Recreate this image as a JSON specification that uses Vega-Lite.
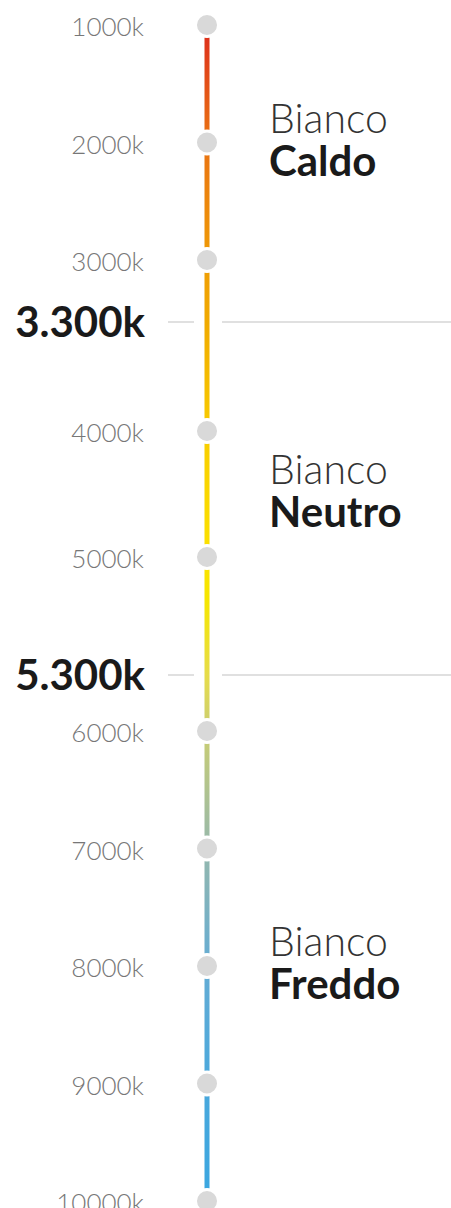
{
  "$schema": "https://vega.github.io/schema/vega-lite/v6.json",
  "width": 451,
  "height": 1208,
  "padding": 0,
  "autosize": {"type": "none"},
  "background": "#ffffff",
  "config": {"view": {"stroke": null}},
  "datasets": {
    "ticks": [
      {"t": 1000, "label": "1000k"},
      {"t": 2000, "label": "2000k"},
      {"t": 3000, "label": "3000k"},
      {"t": 4000, "label": "4000k"},
      {"t": 5000, "label": "5000k"},
      {"t": 6000, "label": "6000k"},
      {"t": 7000, "label": "7000k"},
      {"t": 8000, "label": "8000k"},
      {"t": 9000, "label": "9000k"},
      {"t": 10000, "label": "10000k"}
    ],
    "thresholds": [
      {"t": 3300, "label": "3.300k"},
      {"t": 5300, "label": "5.300k"}
    ],
    "zones": [
      {"t": 2000, "word": "Bianco", "name": "Caldo"},
      {"t": 4500, "word": "Bianco", "name": "Neutro"},
      {"t": 8000, "word": "Bianco", "name": "Freddo"}
    ],
    "range": [{"t": 1000, "t2": 10000}]
  },
  "layer": [
    {
      "data": {"name": "thresholds"},
      "mark": {"type": "rule", "stroke": "#e0e0e0", "strokeWidth": 2},
      "encoding": {
        "y": {"field": "t", "type": "quantitative", "axis": null,
              "scale": {"type": "linear", "domain": [1000, 3000, 3300, 4000, 5000, 5300, 6000, 10000], "range": [25, 260, 322, 431, 557, 675, 731, 1201], "nice": false, "zero": false}},
        "x": {"datum": 168, "type": "quantitative", "axis": null, "scale": {"domain": [0, 451], "nice": false, "zero": false}},
        "x2": {"datum": 194}
      }
    },
    {
      "data": {"name": "thresholds"},
      "mark": {"type": "rule", "stroke": "#e0e0e0", "strokeWidth": 2},
      "encoding": {
        "y": {"field": "t", "type": "quantitative", "axis": null},
        "x": {"datum": 222, "type": "quantitative", "axis": null},
        "x2": {"datum": 451}
      }
    },
    {
      "data": {"name": "range"},
      "mark": {
        "type": "rect",
        "fill": {
          "gradient": "linear", "x1": 0, "y1": 0, "x2": 0, "y2": 1,
          "stops": [
            {"offset": 0, "color": "#dc2a1c"},
            {"offset": 0.088, "color": "#e86c14"},
            {"offset": 0.2, "color": "#ef9c06"},
            {"offset": 0.253, "color": "#f0aa00"},
            {"offset": 0.344, "color": "#f8cc00"},
            {"offset": 0.452, "color": "#fbe200"},
            {"offset": 0.489, "color": "#f5e600"},
            {"offset": 0.553, "color": "#e6dc4a"},
            {"offset": 0.591, "color": "#cfd06c"},
            {"offset": 0.7, "color": "#96b8ac"},
            {"offset": 0.8, "color": "#64acd4"},
            {"offset": 0.9, "color": "#4aa8dc"},
            {"offset": 1, "color": "#3aa6e0"}
          ]
        }
      },
      "encoding": {
        "y": {"field": "t", "type": "quantitative", "axis": null},
        "y2": {"field": "t2"},
        "x": {"datum": 204.5, "type": "quantitative", "axis": null},
        "x2": {"datum": 209.5}
      }
    },
    {
      "data": {"name": "ticks"},
      "mark": {"type": "point", "shape": "circle", "filled": true, "fill": "#d9d9d9", "stroke": "#ffffff", "strokeWidth": 3, "size": 531, "opacity": 1},
      "encoding": {
        "y": {"field": "t", "type": "quantitative", "axis": null},
        "x": {"datum": 207, "type": "quantitative", "axis": null}
      }
    },
    {
      "data": {"name": "ticks"},
      "mark": {"type": "text", "align": "right", "baseline": "alphabetic", "dy": 11, "font": "Lato", "fontWeight": 300, "fontSize": 26, "fill": "#777777"},
      "encoding": {
        "y": {"field": "t", "type": "quantitative", "axis": null},
        "x": {"datum": 144, "type": "quantitative", "axis": null},
        "text": {"field": "label"}
      }
    },
    {
      "data": {"name": "thresholds"},
      "mark": {"type": "text", "align": "right", "baseline": "alphabetic", "dy": 15, "font": "Lato", "fontWeight": "bold", "fontSize": 42, "fill": "#1a1a1a"},
      "encoding": {
        "y": {"field": "t", "type": "quantitative", "axis": null},
        "x": {"datum": 145, "type": "quantitative", "axis": null},
        "text": {"field": "label"}
      }
    },
    {
      "data": {"name": "zones"},
      "mark": {"type": "text", "align": "left", "baseline": "alphabetic", "dy": -10, "font": "Lato", "fontWeight": 300, "fontSize": 41, "fill": "#333333"},
      "encoding": {
        "y": {"field": "t", "type": "quantitative", "axis": null},
        "x": {"datum": 269, "type": "quantitative", "axis": null},
        "text": {"field": "word"}
      }
    },
    {
      "data": {"name": "zones"},
      "mark": {"type": "text", "align": "left", "baseline": "alphabetic", "dy": 33, "font": "Lato", "fontWeight": "bold", "fontSize": 42, "fill": "#1a1a1a"},
      "encoding": {
        "y": {"field": "t", "type": "quantitative", "axis": null},
        "x": {"datum": 269, "type": "quantitative", "axis": null},
        "text": {"field": "name"}
      }
    }
  ]
}
